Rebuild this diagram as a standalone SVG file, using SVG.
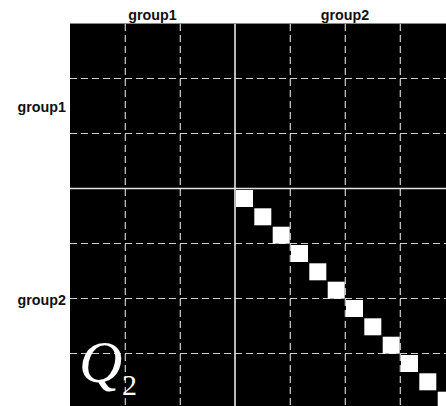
<svg xmlns="http://www.w3.org/2000/svg" width="446" height="406" viewBox="0 0 446 406">
<style>
.lbl{font-family:"Liberation Sans",Arial,sans-serif;font-weight:bold;font-size:14.3px;fill:#111}
.dash{stroke:#cfcfcf;stroke-width:1.2;stroke-dasharray:7 4;fill:none}
.solid{stroke:#e6e6e6;stroke-width:1.6;fill:none}
.sq{fill:#fff}
</style>
<rect x="0" y="0" width="446" height="406" fill="#fff"/>
<g id="matrix">
<rect x="70" y="23.5" width="376" height="382.5" fill="#000"/>
<line x1="70" y1="23.5" x2="446" y2="23.5" stroke="#888" stroke-width="1"/>
</g>
<g id="connectors">
<line class="dash" x1="125.3" y1="24" x2="125.3" y2="406"/>
<line class="dash" x1="180.3" y1="24" x2="180.3" y2="406"/>
<line class="dash" x1="290.3" y1="24" x2="290.3" y2="406"/>
<line class="dash" x1="345.3" y1="24" x2="345.3" y2="406"/>
<line class="dash" x1="400.3" y1="24" x2="400.3" y2="406"/>
<line class="dash" x1="70" y1="78.5" x2="446" y2="78.5"/>
<line class="dash" x1="70" y1="133.5" x2="446" y2="133.5"/>
<line class="dash" x1="70" y1="243.5" x2="446" y2="243.5"/>
<line class="dash" x1="70" y1="298.5" x2="446" y2="298.5"/>
<line class="dash" x1="70" y1="353.5" x2="446" y2="353.5"/>
<line class="solid" x1="235" y1="24" x2="235" y2="406"/>
<line class="solid" x1="70" y1="188.5" x2="446" y2="188.5"/>
</g>
<g id="diagonal">
<rect class="sq" x="236" y="190" width="17" height="17"/>
<rect class="sq" x="254.3" y="208.3" width="17" height="17"/>
<rect class="sq" x="272.7" y="226.7" width="17" height="17"/>
<rect class="sq" x="291" y="245" width="17" height="17"/>
<rect class="sq" x="309.3" y="263.3" width="17" height="17"/>
<rect class="sq" x="327.7" y="281.7" width="17" height="17"/>
<rect class="sq" x="346" y="300" width="17" height="17"/>
<rect class="sq" x="364.3" y="318.3" width="17" height="17"/>
<rect class="sq" x="382.7" y="336.7" width="17" height="17"/>
<rect class="sq" x="401" y="355" width="17" height="17"/>
<rect class="sq" x="419.3" y="373.3" width="17" height="17"/>
<rect class="sq" x="437.7" y="391.7" width="17" height="17"/>
</g>
<g id="labels">
<text class="lbl" x="152.5" y="19.5" text-anchor="middle">group1</text>
<text class="lbl" x="345" y="19.5" text-anchor="middle">group2</text>
<text class="lbl" x="66" y="112" text-anchor="end">group1</text>
<text class="lbl" x="66" y="305" text-anchor="end">group2</text>
</g>
<g id="title">
<text x="79" y="382" font-family="'Liberation Serif','Times New Roman',serif" font-style="italic" font-size="60" fill="#fff">Q</text>
<text x="122" y="395" font-family="'Liberation Serif','Times New Roman',serif" font-size="30" fill="#fff">2</text>
</g>
</svg>
